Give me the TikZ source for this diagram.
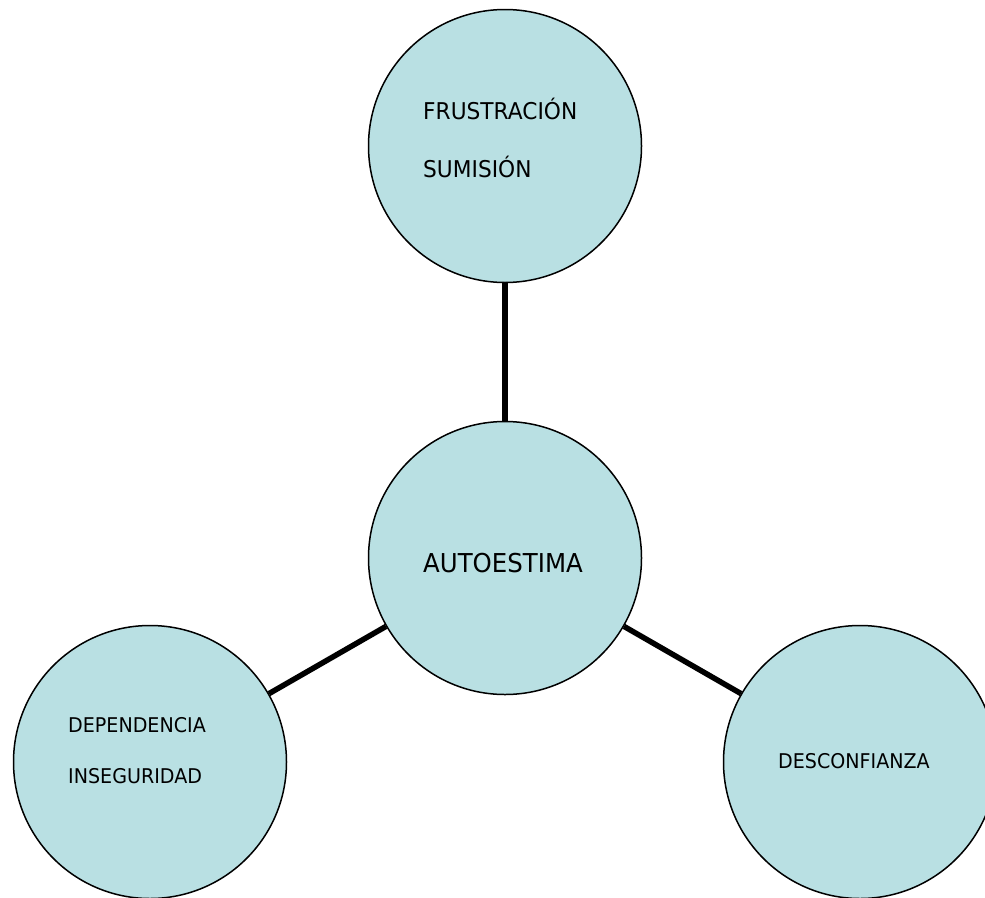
\documentclass[tikz,border=0pt]{standalone}
\usepackage{fontspec}
\setmainfont{DejaVu Sans}
\newfontfamily\tahoma[FakeStretch=0.94]{DejaVu Sans}
\usetikzlibrary{calc}
\definecolor{bubble}{RGB}{185,224,227}
\begin{document}
\begin{tikzpicture}[x=1pt,y=-1pt,
  bub/.style={circle,draw=black,line width=1.5pt,fill=bubble,minimum size=273pt,inner sep=0pt},
  conn/.style={line width=5.5pt,black},
  txt/.style={anchor=base west,inner sep=0pt,font=\tahoma\fontsize{#1}{24}\selectfont},
  txt/.default=21.5]
\useasboundingbox[fill=white] (0,0) rectangle (985,897);
\node[bub] (top) at (505,146) {};
\node[bub] (center) at (505,558) {};
\node[bub] (left) at (150,762) {};
\node[bub] (right) at (860,762) {};
\draw[conn] (top) -- (center);
\draw[conn] (center) -- (left);
\draw[conn] (center) -- (right);
\node[txt=23.1] (t1) at (423,119) {FRUSTRACIÓN};
\node[txt=23.1] (t2) at (423,177) {SUMISIÓN};
\node[txt=26] (t3) at (423,572) {AUTOESTIMA};
\node[txt=20.3] (t4) at (68,732) {DEPENDENCIA};
\node[txt=20.3] (t5) at (68,783) {INSEGURIDAD};
\node[txt=20.3] (t6) at (778,768) {DESCONFIANZA};
\end{tikzpicture}
\end{document}
